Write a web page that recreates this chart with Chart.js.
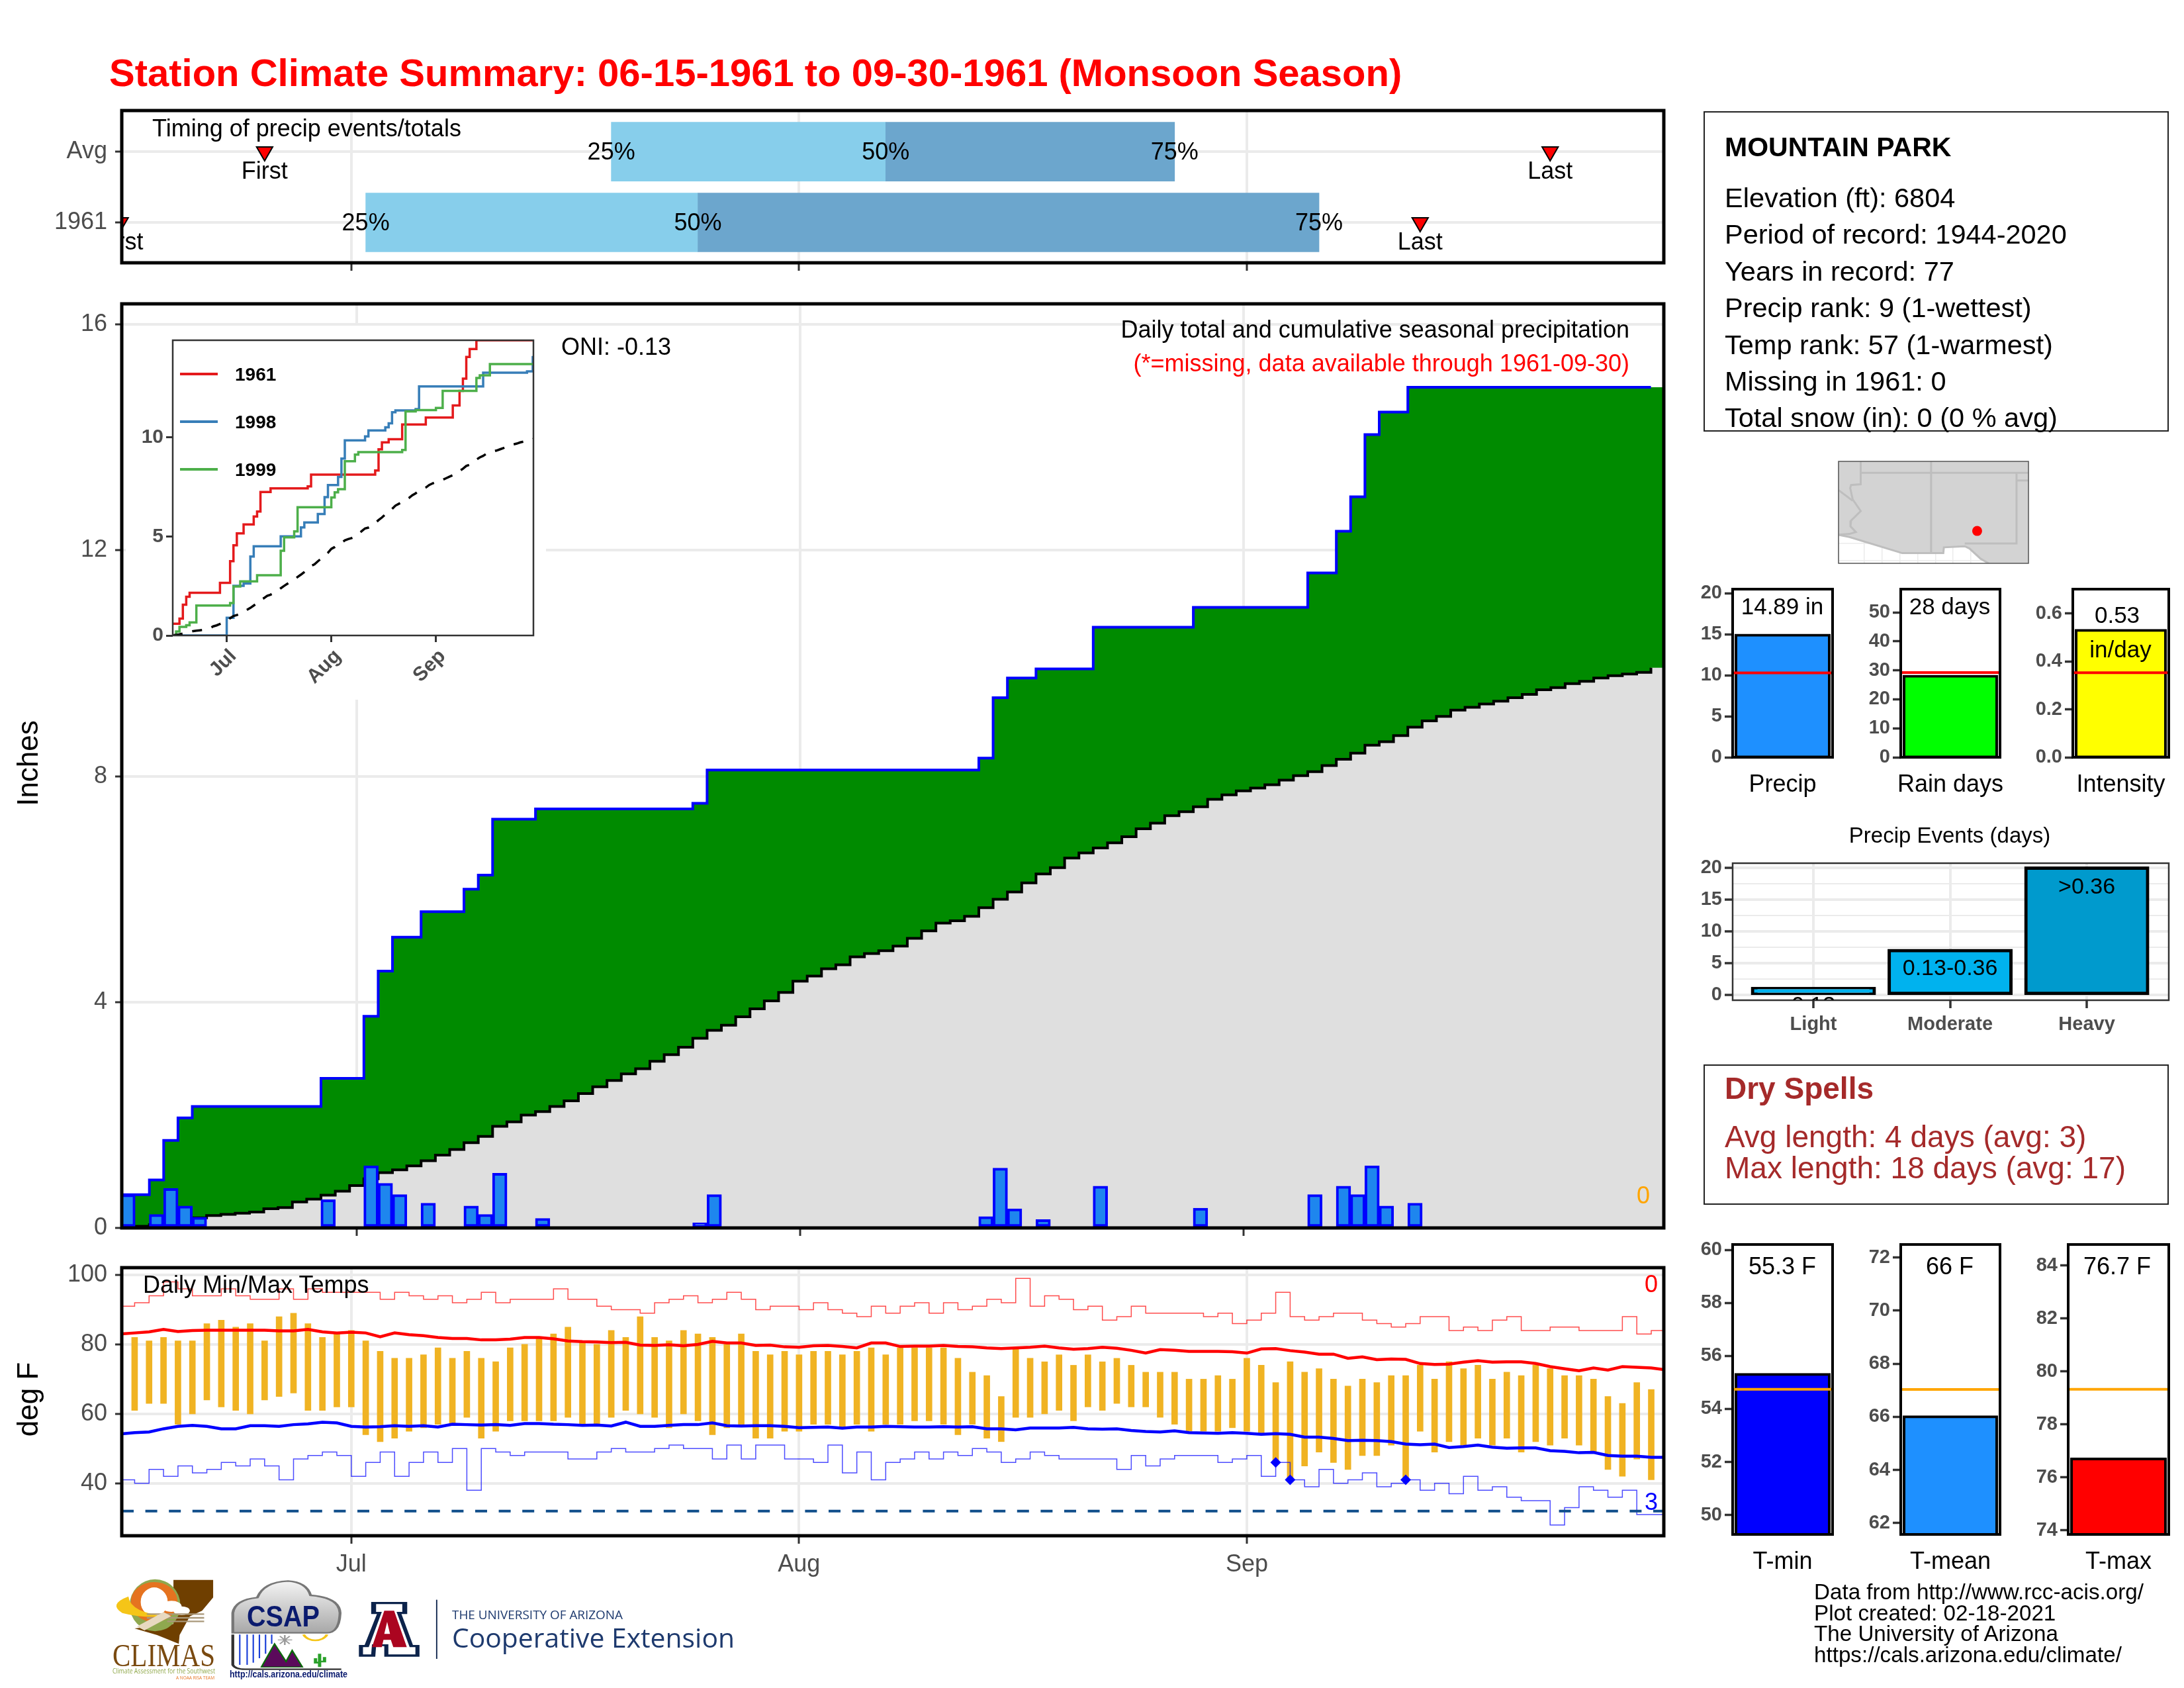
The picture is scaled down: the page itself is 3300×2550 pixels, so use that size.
<!DOCTYPE html>
<html>
<head>
<meta charset="utf-8">
<title>Station Climate Summary</title>
<script src="https://cdn.jsdelivr.net/npm/chart.js@4"></script>
<style>
  html,body{margin:0;background:#fff;width:3300px;height:2550px;overflow:hidden}
  body{position:relative;font-family:"Liberation Sans",Arial,sans-serif}
  canvas{position:absolute;display:block}
  .t{position:absolute;line-height:1;white-space:pre;z-index:5}
  .box{position:absolute;box-sizing:border-box;border:2.5px solid #222;background:#fff}
  #logos{position:absolute;left:0;top:0;z-index:4}
</style>
</head>
<body>
<svg id="logos" width="3300" height="2550" viewBox="0 0 3300 2550">
  <defs><linearGradient id="cl" x1="0" y1="0" x2="0" y2="1"><stop offset="0" stop-color="#f4f4f4"/><stop offset="1" stop-color="#a8a8a8"/></linearGradient></defs>
  <g transform="translate(160,2370) scale(0.6186,0.3333)">
    <path d="M165,50 L262,50 L262,130 L235,190 L205,215 L180,300 L178,340 L125,300 L70,270 L165,250 Z" fill="#6f3f00"/>
    <ellipse cx="120" cy="165" rx="62" ry="118" fill="#8fa84f"/>
    <ellipse cx="118" cy="150" rx="45" ry="78" fill="#fff" stroke="#e57320" stroke-width="24"/>
    <path d="M55,125 Q5,160 40,200 Q90,225 150,215 Q60,200 55,125 Z" fill="#f5c518"/>
    <circle cx="160" cy="170" r="25" fill="#fff"/><circle cx="185" cy="190" r="20" fill="#fff"/>
    <path d="M100,205 L240,205 M100,222 L240,222 M150,238 L240,238" stroke="#a9987a" stroke-width="7"/>
    <path d="M85,270 L150,205" stroke="#e8d9c0" stroke-width="26"/>
    <path d="M310,290 L310,200 Q315,140 370,130 Q385,60 445,55 Q490,60 500,120 Q570,130 572,200 Q570,290 540,290 Z" fill="url(#cl)" stroke="#777" stroke-width="7"/>
    <path d="M327,298V435 M345,298V435 M360,298V425 M375,298V405 M390,298V385 M405,298V340" stroke="#1a3fd8" stroke-width="3.5"/>
    <path d="M310,298 L310,435 Q315,455 340,455 L575,455" fill="none" stroke="#333" stroke-width="7"/>
    <path d="M380,445 L412,340 L440,420 L455,370 L480,445 Z" fill="#5b0a5b" stroke="#0a6a0a" stroke-width="4"/>
    <path d="M437,300V345 M420,322H455 M425,305L449,340 M449,305L425,340" stroke="#999" stroke-width="4"/>
    <path d="M483,298 A30,38 0 0 0 540,298" fill="none" stroke="#f5c518" stroke-width="7"/>
    <path d="M522,385V445 M512,405V425H522 M534,400V420H522" fill="none" stroke="#2aa02a" stroke-width="8"/>
    <path d="M648,150 L736,150 L736,205 L722,205 L750,345 L766,345 L766,398 L680,398 L680,350 L660,350 L658,398 L618,398 L618,345 L632,345 L662,205 L648,205 Z" fill="#0c234b"/>
    <path d="M660,160 L724,160 L724,195 L710,195 L742,355 L756,355 L756,388 L690,388 L690,342 L650,342 L648,388 L628,388 L628,355 L642,355 L674,195 L660,195 Z" fill="#fff"/>
    <path d="M680,190 L704,190 L735,355 L702,355 L696,322 L678,322 L674,355 L650,355 Z M687,240 L680,295 L694,295 Z" fill="#ab0520" fill-rule="evenodd"/>
    <path d="M808,140V408" stroke="#0c234b" stroke-width="3"/>
  </g>
  <text x="170" y="2517" font-family="Liberation Serif" font-size="48" fill="#7a4a10" textLength="155" lengthAdjust="spacingAndGlyphs">CLIMAS</text>
  <text x="170" y="2528" font-family="Open Sans" font-size="10.5" fill="#8fa84a" textLength="155" lengthAdjust="spacingAndGlyphs">Climate Assessment for the Southwest</text>
  <text x="266" y="2537" font-family="Open Sans" font-size="8" fill="#e57320" textLength="58" lengthAdjust="spacingAndGlyphs">A NOAA RISA TEAM</text>
  <text x="373" y="2457" font-family="Liberation Sans" font-weight="bold" font-size="44" fill="#0a1a6e" textLength="110" lengthAdjust="spacingAndGlyphs">CSAP</text>
  <text x="347" y="2534" font-family="Liberation Sans" font-weight="bold" font-size="14" fill="#0a1a6e" textLength="178" lengthAdjust="spacingAndGlyphs">http://cals.arizona.edu/climate</text>
  <text x="683" y="2446" font-family="Open Sans" font-size="19" fill="#1e3a6e" textLength="258" lengthAdjust="spacingAndGlyphs">THE UNIVERSITY OF ARIZONA</text>
  <text x="683" y="2489" font-family="Open Sans" font-size="40" fill="#1e3a6e" textLength="427" lengthAdjust="spacingAndGlyphs">Cooperative Extension</text>
</svg>
<script>
// data; day index 0 = Jun 15
const MONTH_DAYS = [16, 47, 78];
const MONTHS = ['Jul', 'Aug', 'Sep'];

// timing strip
const TIMING_ROWS = [2, 1];
const TIMING_NAMES = {1: '1961', 2: 'Avg'};
const firstEvent = [10, 0];
const lastEvent = [99, 90];
const q25 = [34, 17];
const q50 = [53, 40];
const q75 = [73, 83];

// daily precip, only wet days listed
const wetDays = [0,2,3,4,5,14,17,18,19,21,24,25,26,29,40,41,60,61,62,64,68,75,83,85,86,87,88,90];
const wetAmounts = [.59,.24,.70,.39,.19,.50,1.10,.79,.59,.44,.39,.24,.97,.17,.09,.59,.20,1.06,.34,.15,.74,.35,.59,.74,.59,1.10,.39,.44];
const cumLevels = [.59,.85,1.55,1.95,2.15,2.65,3.75,4.55,5.15,5.6,6.0,6.25,7.24,7.42,7.52,8.11,8.32,9.39,9.74,9.9,10.64,10.99,11.6,12.34,12.95,14.05,14.45,14.89];
const avgPrecip = [0.01,0.03,0.06,0.10,0.14,0.18,0.22,0.24,0.26,0.28,
  0.34,0.36,0.46,0.51,0.58,0.65,0.75,0.87,0.98,1.03,
  1.10,1.19,1.29,1.39,1.51,1.62,1.80,1.88,2.00,2.06,
  2.15,2.25,2.38,2.50,2.61,2.73,2.82,2.95,3.07,3.20,
  3.36,3.50,3.59,3.74,3.88,4.02,4.17,4.37,4.46,4.59,
  4.66,4.80,4.86,4.91,4.99,5.13,5.26,5.40,5.44,5.52,
  5.67,5.82,5.95,6.11,6.27,6.38,6.55,6.64,6.73,6.82,
  6.93,7.07,7.17,7.30,7.37,7.46,7.59,7.67,7.74,7.79,
  7.85,7.93,8.01,8.08,8.19,8.30,8.41,8.55,8.61,8.72,
  8.87,8.98,9.06,9.17,9.22,9.28,9.33,9.39,9.45,9.53,
  9.57,9.64,9.68,9.74,9.78,9.81,9.84,9.92];

// inset: wettest analog years
const days98 = [0,16,18,21,23,24,32,38,39,43,45,46,49,50,51,57,58,63,64,65,66,72,73,92,105,106.7];
const vals98 = [0,.89,2.5,2.62,3.98,4.5,5,5.45,5.7,6.13,6.98,7.59,8,8.92,9.84,10.04,10.34,10.5,10.7,11.26,11.35,11.42,12.56,13.25,13.32,14.1];
const days99 = [0,1,2,4,5,7,17,18,20,25,32,33,36,37,47,48,49,51,54,55,68,69,72,78,80,90,91,94,107];
const vals99 = [0,.2,.43,.52,.66,1.51,1.64,2.47,2.73,3.04,4.27,4.95,5.25,6.47,6.96,7.22,7.38,8.79,9.12,9.25,9.36,11.3,11.37,11.48,12.34,12.99,13.12,13.69,13.69];

// temps; tempHigh/tempLow start at day 1
const tempHigh = [82,81,82,81,81,86,87,85,86,
  81,88,89,86,82,83,84,81,78,76,
  76,77,79,76,78,76,75,79,80,82,
  83,85,81,80,84,82,88,82,81,84,
  83,82,80,83,78,77,78,77,78,78,
  77,78,79,77,79,79,79,79,76,72,
  71,65,79,76,75,77,74,77,75,76,
  74,72,72,72,70,70,71,70,76,74,
  69,75,72,73,70,68,70,69,71,71,
  74,70,75,73,74,70,72,71,74,73,
  71,71,70,65,63,69,67];
const tempLow = [61,63,63,57,60,64,62,61,60,
  64,65,66,61,61,62,62,54,52,53,
  55,56,57,57,59,53,55,58,58,58,
  58,59,57,57,59,61,60,59,56,60,
  58,54,56,57,53,53,55,55,57,57,
  56,57,55,57,57,58,58,57,54,57,
  53,52,59,59,60,61,58,62,61,63,
  62,62,59,57,55,55,55,56,55,54,
  46,41,45,49,46,44,48,48,51,41,
  55,49,52,51,53,51,53,49,52,51,
  53,51,49,44,42,47,41];
const recMax = [91,92,94,98,96,94,94,96,94,93,
  93,96,93,96,95,95,95,95,93,95,
  94,93,94,92,93,95,92,93,93,93,
  96,93,93,91,90,90,89,92,93,94,
  92,93,95,93,90,91,91,90,92,90,
  89,88,91,89,91,92,89,92,90,91,
  93,92,99,91,94,93,90,91,87,88,
  91,89,89,89,89,88,89,86,87,89,
  95,88,87,88,89,89,87,86,85,86,
  88,88,84,85,84,87,88,84,84,85,
  85,84,84,84,88,83,84,84];
const recMin = [41,40,44,42,45,43,44,46,45,47,
  45,41,47,48,49,48,42,46,49,42,
  46,49,46,50,38,50,49,48,49,49,
  49,47,47,49,50,49,49,50,51,50,
  50,47,51,47,51,51,47,47,46,51,
  43,49,41,46,47,49,47,49,48,50,
  49,46,47,49,48,47,47,47,47,44,
  48,45,47,48,48,48,46,47,48,42,
  46,41,39,44,40,41,43,39,40,41,
  38,40,37,42,38,39,36,35,35,28,
  33,39,38,36,38,31,31,31];
const avgMax = [83.0,83.3,83.6,84.3,83.7,84,84.1,84.1,84.1,84.1,
  84.1,83.9,83.9,84.3,83.6,83.3,83.5,83.3,82.2,83.3,
  82.8,82.5,82,81.7,81.7,81.3,81.3,81.5,82,82,
  81.6,81,80.8,80.7,80.5,80.6,79.8,79.7,79.9,79.6,
  80,80.9,80.4,80.4,79.7,79.8,79.3,79.2,79.6,79.7,
  79.4,79,80.4,80.4,79.4,79.5,79.5,79.7,79.4,79.3,
  79,78.8,79,79.2,79.5,79,78.6,78.8,79.2,78.9,
  78.3,77.5,78.5,78.3,78,78,78,77.9,77.5,78.7,
  78.8,78.2,77.8,77.2,77.2,76,76.4,75.6,75.8,75.7,
  74.5,74.2,74.3,74.9,75.3,74.9,75,75,74.5,73.6,
  73,72.4,73.2,72.6,73.6,73.4,73.2,72.7];
const avgMin = [54.2,54.6,54.8,55.7,56.4,56.7,56.4,55.7,55.7,56.6,
  56.6,56.4,56.9,57.1,57.6,57.4,56.4,56.2,56.3,56.6,
  56.4,56.6,56.2,57,56.9,56.8,56.9,56.7,57.2,57.2,
  57,56.9,56.7,56.8,56.5,57.6,56.4,56.4,56.7,56.9,
  56.9,57.4,56.6,56.5,56.6,56.6,56.4,56,56.1,56.2,
  55.9,56.2,56.2,56.4,56.3,56.2,56.2,56.3,56.2,56.3,
  55.7,55.7,55.4,55.9,55.9,55.9,56.1,55.7,55.6,55.7,
  55.2,54.9,54.8,55.1,54.6,54.5,54.4,54.6,54.4,54.1,
  54.3,54.1,53.3,53.3,52.9,52.3,52.4,52.3,52,51.3,
  51.1,51.3,50.3,50.6,51,50.4,50.1,50.2,50.2,49.4,
  49.2,48.8,48.9,48,47.8,47.8,47.5,47.5];
const recordDays = [80, 81, 89];
const recordLows = [46, 41, 41];
const FREEZE = 32;

// side bars
const eventNames = ['Light', 'Moderate', 'Heavy'];
const eventDays = [1, 7, 20];

// map, lon/lat
const landLon = [-115.56,-102.2,-102.2,-105,-105.56,-106.35,-106.68,-108.15,-108.19,-111.08,-114.79,-115.56];
const landLat = [37.81,37.81,30.6,30.6,30.92,31.65,31.81,31.73,31.32,31.32,32.46,32.62];
const borderLines = [
  [[-109.05,37.81],[-109.05,31.32]],
  [[-114,37],[-102.2,37]],
  [[-114,37.81],[-114,36.19],[-114.68,36.14],[-114.74,35.92],[-114.56,35.11],[-114,34.3],[-114.68,33.62],[-114.72,33.22],[-114.34,32.81],[-114.79,32.68],[-115.56,32.62]],
  [[-115.56,35.78],[-114.57,35.03]],
  [[-103.04,37],[-103.04,32],[-106.68,32]],
  [[-103.04,36.46],[-102.2,36.46]]
];
const stationLon = [-105.81];
const stationLat = [32.89];

const GRID = '#EBEBEB', TICK = '#333', TXT = '#4D4D4D', FONT = 'Liberation Sans';

function label(s, x, y, o = {}) {
  const d = document.createElement('div');
  d.className = 't';
  d.textContent = s;
  const ax = o.align === 'center' ? '-50%' : o.align === 'right' ? '-100%' : '0';
  d.style.cssText = `left:${x}px;top:${y}px;font-size:${o.size || 36}px;color:${o.color || '#000'};font-weight:${o.bold ? 'bold' : 'normal'};transform:translate(${ax},-50%)${o.rot ? ' rotate(' + o.rot + 'deg)' : ''}`;
  document.body.appendChild(d);
}

function panelBorder(width, color) {
  return { id: 'panelBorder', afterDatasetsDraw(chart) {
    const a = chart.chartArea, c = chart.ctx;
    c.save(); c.lineWidth = width; c.strokeStyle = color;
    c.strokeRect(a.left, a.top, a.right - a.left, a.bottom - a.top);
    c.restore();
  }};
}

// text tied to data values, clipped to the panel like the original
function notes(items) {
  return { id: 'notes', afterDatasetsDraw(chart) {
    const a = chart.chartArea, c = chart.ctx;
    c.save(); c.beginPath(); c.rect(a.left, a.top, a.right - a.left, a.bottom - a.top); c.clip();
    c.textAlign = 'center'; c.textBaseline = 'middle'; c.fillStyle = '#000';
    items.forEach(n => {
      c.font = `${n.size || 36}px "${FONT}"`;
      c.fillText(n.text, chart.scales.x.getPixelForValue(n.x), chart.scales.y.getPixelForValue(n.y) + (n.dy || 0));
    });
    c.restore();
  }};
}

function mkChart(area, m, cfg) {
  const c = document.createElement('canvas');
  c.width = area.r - area.l + m.l + m.r;
  c.height = area.b - area.t + m.t + m.b;
  c.style.left = (area.l - m.l) + 'px';
  c.style.top = (area.t - m.t) + 'px';
  if (m.bg) c.style.background = m.bg;
  if (m.z) c.style.zIndex = m.z;
  document.body.appendChild(c);
  const o = cfg.options;
  o.responsive = false; o.animation = false; o.devicePixelRatio = 1;
  o.layout = { autoPadding: false, padding: { left: 0, top: m.t, right: m.r, bottom: 0 } };
  // bar datasets would otherwise pull in offset:true from their defaults
  ['x', 'y'].forEach(k => {
    o.scales[k].offset = false;
    o.scales[k].grid = Object.assign({ offset: false }, o.scales[k].grid);
  });
  o.scales.x.afterFit = s => { s.height = m.b; };
  o.scales.y.afterFit = s => { s.width = m.l; };
  o.plugins = { legend: { display: false }, tooltip: { enabled: false } };
  return new Chart(c, cfg);
}

function fixedTicks(vals) { return s => { s.ticks = vals.map(v => ({ value: v })); }; }

function monthAxis(min, max, showLabels) {
  return {
    type: 'linear', min, max,
    afterBuildTicks: fixedTicks(MONTH_DAYS),
    grid: { color: GRID, lineWidth: 4, tickColor: TICK, tickWidth: 3, tickLength: 12 },
    border: { display: false },
    ticks: { autoSkip: false, maxRotation: 0, padding: 10, color: TXT, font: { family: FONT, size: 36 },
      callback: v => showLabels ? MONTHS[MONTH_DAYS.indexOf(v)] : '' }
  };
}

function valueAxis(min, max, vals, names) {
  return {
    type: 'linear', min, max,
    afterBuildTicks: fixedTicks(vals),
    grid: { color: GRID, lineWidth: 4, tickColor: TICK, tickWidth: 3, tickLength: 10 },
    border: { display: false },
    ticks: { autoSkip: false, padding: 12, color: TXT, font: { family: FONT, size: 36 },
      callback: v => names ? names[v] : String(v) }
  };
}

const pairs = (xs, ys) => xs.map((x, i) => ({ x, y: ys[i] }));
const byDay = (ys, shift = 0) => ys.map((y, i) => ({ x: i + shift, y }));

/* ---------- timing strip ---------- */
mkChart({ l: 184, t: 167, r: 2514, b: 397 }, { l: 120, r: 10, t: 40, b: 45 }, {
  type: 'scatter',
  data: { datasets: [
    { type: 'bar', indexAxis: 'y', grouped: false, order: 5, barThickness: 89, backgroundColor: '#87CEEB',
      data: TIMING_ROWS.map((r, i) => ({ y: r, x: [q25[i], q50[i]] })) },
    { type: 'bar', indexAxis: 'y', grouped: false, order: 4, barThickness: 89, backgroundColor: '#6CA6CD',
      data: TIMING_ROWS.map((r, i) => ({ y: r, x: [q50[i], q75[i]] })) },
    { data: pairs(firstEvent, TIMING_ROWS).concat(pairs(lastEvent, TIMING_ROWS)), order: 1,
      pointStyle: 'triangle', rotation: 180, radius: 14, backgroundColor: '#f00', borderColor: '#000', borderWidth: 2 }
  ]},
  options: { scales: { x: monthAxis(.11, 106.87, false), y: valueAxis(.43, 2.58, TIMING_ROWS, TIMING_NAMES) } },
  plugins: [panelBorder(5, '#000'), notes(TIMING_ROWS.flatMap((r, i) => [
    { x: q25[i], y: r, dy: 2, text: '25%' }, { x: q50[i], y: r, dy: 2, text: '50%' }, { x: q75[i], y: r, dy: 2, text: '75%' },
    { x: firstEvent[i], y: r, dy: 31, text: 'First' }, { x: lastEvent[i], y: r, dy: 31, text: 'Last' }
  ]))]
});

/* ---------- cumulative precip ---------- */
const cumSteps = pairs(wetDays.map(d => d - .5), cumLevels);
const lastCum = cumLevels[cumLevels.length - 1];
const avgSteps = byDay(avgPrecip, -.5);
mkChart({ l: 184, t: 459, r: 2514, b: 1855 }, { l: 120, r: 10, t: 40, b: 45 }, {
  type: 'line',
  data: { datasets: [
    { data: avgSteps.concat({ x: 107.5, y: avgPrecip[107] }), stepped: 'before', order: 9, pointRadius: 0, borderWidth: 0,
      fill: 'origin', backgroundColor: '#DFDFDF' },
    { data: cumSteps.concat({ x: 107.5, y: lastCum }), stepped: 'before', order: 8, pointRadius: 0, borderWidth: 0,
      fill: 0, backgroundColor: '#008B00' },
    { data: avgSteps, stepped: 'before', order: 3, pointRadius: 0, borderWidth: 4, borderColor: '#000', fill: false },
    { type: 'bar', data: pairs(wetDays, wetAmounts), order: 2, barThickness: 22, borderWidth: 4, borderSkipped: false,
      borderColor: '#00f', backgroundColor: '#1E86EE' },
    { data: cumSteps.concat({ x: 106.5, y: lastCum }), stepped: 'before', order: 1, pointRadius: 0, borderWidth: 4, borderColor: '#00f', fill: false }
  ]},
  options: { scales: { x: monthAxis(-.43, 107.4, false), y: valueAxis(0, 16.366, [0, 4, 8, 12, 16]) } },
  plugins: [panelBorder(5, '#000')]
});

/* ---------- inset ---------- */
mkChart({ l: 261, t: 512, r: 806, b: 960 }, { l: 71, r: 19, t: 20, b: 97, bg: '#fff', z: 2 }, {
  type: 'line',
  data: { datasets: [
    { data: pairs(wetDays, cumLevels).concat({ x: 107, y: lastCum }), stepped: 'before', order: 4, pointRadius: 0, borderWidth: 3.5, borderColor: '#E41A1C' },
    { data: pairs(days98, vals98), stepped: 'before', order: 3, pointRadius: 0, borderWidth: 3.5, borderColor: '#377EB8' },
    { data: pairs(days99, vals99), stepped: 'before', order: 2, pointRadius: 0, borderWidth: 3.5, borderColor: '#4DAF4A' },
    { data: byDay(avgPrecip), order: 1, pointRadius: 0, borderWidth: 3.5, borderColor: '#000', borderDash: [15, 15] }
  ]},
  options: { scales: {
    x: { type: 'linear', min: 0, max: 106.9, afterBuildTicks: fixedTicks(MONTH_DAYS), border: { display: false },
      grid: { drawOnChartArea: false, tickColor: TICK, tickWidth: 3, tickLength: 10 },
      ticks: { autoSkip: false, minRotation: 45, maxRotation: 45, padding: 4, labelOffset: 10, color: TXT, font: { family: FONT, size: 30, weight: 'bold' },
        callback: v => MONTHS[MONTH_DAYS.indexOf(v)] } },
    y: { type: 'linear', min: 0, max: 14.89, afterBuildTicks: fixedTicks([0, 5, 10]), border: { display: false },
      grid: { drawOnChartArea: false, tickColor: TICK, tickWidth: 3, tickLength: 10 },
      ticks: { autoSkip: false, padding: 4, color: TXT, font: { family: FONT, size: 30, weight: 'bold' }, callback: v => String(v) } }
  } },
  plugins: [panelBorder(2.5, '#333')]
});

/* ---------- daily temps ---------- */
mkChart({ l: 184, t: 1915, r: 2514, b: 2320 }, { l: 120, r: 10, t: 40, b: 80 }, {
  type: 'line',
  data: { datasets: [
    { type: 'bar', order: 7, barThickness: 9, backgroundColor: '#F0B323', data: tempHigh.map((h, i) => ({ x: i + 1, y: [tempLow[i], h] })) },
    { data: byDay(recMax), stepped: 'before', order: 6, pointRadius: 0, borderWidth: 1.5, borderColor: 'rgba(255,0,0,.7)' },
    { data: byDay(recMin), stepped: 'before', order: 5, pointRadius: 0, borderWidth: 1.5, borderColor: 'rgba(0,0,255,.7)' },
    { data: [{ x: .11, y: FREEZE }, { x: 106.87, y: FREEZE }], order: 4, pointRadius: 0, borderWidth: 4, borderColor: '#104E8B', borderDash: [18, 17.6] },
    { data: byDay(avgMax), order: 3, pointRadius: 0, borderWidth: 4.5, borderColor: '#f00' },
    { data: byDay(avgMin), order: 2, pointRadius: 0, borderWidth: 4.5, borderColor: '#00f' },
    { data: pairs(recordDays, recordLows), order: 1, showLine: false, pointStyle: 'rectRot', radius: 8, backgroundColor: '#00f', borderWidth: 0 }
  ]},
  options: { scales: { x: monthAxis(.11, 106.87, true), y: valueAxis(24.9, 102.1, [40, 60, 80, 100]) } },
  plugins: [panelBorder(5, '#000')]
});

/* ---------- side stat bars ---------- */
const BOLD_TICK = { family: FONT, size: 29, weight: 'bold' };
function statBar(area, name, value, ref, fill, refColor, min, max, vals, decimals) {
  const w = area.r - area.l;
  return mkChart(area, { l: 90, r: 80, t: 30, b: 80 }, {
    type: 'line',
    data: { datasets: [
      { data: [{ x: 0, y: ref }, { x: 1, y: ref }], order: 1, pointRadius: 0, borderWidth: 4, borderColor: refColor },
      { type: 'bar', data: [{ x: .5, y: value }], order: 2, barThickness: w - 10, borderWidth: 4, inflateAmount: 2, borderSkipped: false, borderColor: '#000', backgroundColor: fill }
    ]},
    options: { scales: {
      x: { type: 'linear', min: 0, max: 1, afterBuildTicks: fixedTicks([.5]), border: { display: false },
        grid: { display: false },
        ticks: { autoSkip: false, maxRotation: 0, padding: 12, color: '#000', font: { family: FONT, size: 36 }, callback: () => name } },
      y: { type: 'linear', min, max, afterBuildTicks: fixedTicks(vals), border: { display: false },
        grid: { drawOnChartArea: false, tickColor: TICK, tickWidth: 3.5, tickLength: 12 },
        ticks: { autoSkip: false, padding: 4, color: TXT, font: BOLD_TICK, callback: v => decimals ? v.toFixed(decimals) : String(v) } }
    } },
    plugins: [panelBorder(4, '#000')]
  });
}
statBar({ l: 2618, t: 890, r: 2769, b: 1144 }, 'Precip', 14.89, 10.3, '#1E90FF', '#f00', 0, 20.5, [0, 5, 10, 15, 20]);
statBar({ l: 2872, t: 890, r: 3022, b: 1144 }, 'Rain days', 28, 29.2, '#00FF00', '#f00', 0, 58, [0, 10, 20, 30, 40, 50]);
statBar({ l: 3132, t: 890, r: 3277, b: 1144 }, 'Intensity', .53, .353, '#FFFF00', '#f00', 0, .702, [0, .2, .4, .6], 1);
statBar({ l: 2618, t: 1880, r: 2769, b: 2318 }, 'T-min', 55.3, 54.74, '#0000FF', '#FFA500', 49.27, 60.2, [50, 52, 54, 56, 58, 60]);
statBar({ l: 2872, t: 1880, r: 3022, b: 2318 }, 'T-mean', 66, 67.03, '#1E90FF', '#FFA500', 61.57, 72.49, [62, 64, 66, 68, 70, 72]);
statBar({ l: 3125, t: 1880, r: 3277, b: 2318 }, 'T-max', 76.7, 79.33, '#FF0000', '#FFA500', 73.85, 84.8, [74, 76, 78, 80, 82, 84]);

/* ---------- precip events ---------- */
mkChart({ l: 2618, t: 1304, r: 3277, b: 1511 }, { l: 90, r: 10, t: 30, b: 60 }, {
  type: 'bar',
  data: { datasets: [{ data: eventDays.map((d, i) => ({ x: i + 1, y: d })), barThickness: 184, borderWidth: 5, inflateAmount: 2.5, borderSkipped: false,
    borderColor: '#000', backgroundColor: ['#00B2EE', '#00B2EE', '#009ACD'] }] },
  options: { scales: {
    x: { type: 'linear', min: .409, max: 3.6, afterBuildTicks: fixedTicks([1, 2, 3]), border: { display: false },
      grid: { color: GRID, lineWidth: 4, tickColor: TICK, tickWidth: 3.5, tickLength: 12 },
      ticks: { autoSkip: false, maxRotation: 0, padding: 8, color: TXT, font: BOLD_TICK, callback: v => eventNames[v - 1] } },
    y: { type: 'linear', min: -.85, max: 20.78, afterBuildTicks: fixedTicks([0, 2.5, 5, 7.5, 10, 12.5, 15, 17.5, 20]), border: { display: false },
      grid: { color: GRID, lineWidth: c => c.tick.value % 5 === 0 ? 4 : 2, tickColor: c => c.tick.value % 5 === 0 ? TICK : 'transparent', tickWidth: 3.5, tickLength: 12 },
      ticks: { autoSkip: false, padding: 4, color: TXT, font: BOLD_TICK, callback: v => v % 5 === 0 ? String(v) : '' } }
  } },
  plugins: [panelBorder(2.5, '#333'), notes([
    { x: 1, y: -1.7, text: '0.13', size: 34 }, { x: 2, y: 4.14, text: '0.13-0.36', size: 34 }, { x: 3, y: 17, text: '>0.36', size: 34 }
  ])]
});

/* ---------- locator map ---------- */
mkChart({ l: 2778, t: 697, r: 3065, b: 851 }, { l: 8, r: 8, t: 8, b: 8 }, {
  type: 'scatter',
  data: { datasets: [
    { data: pairs(landLon, landLat), order: 9, showLine: true, pointRadius: 0, borderWidth: 0, fill: 'shape', backgroundColor: '#D3D3D3' },
    ...borderLines.map(l => ({ data: l.map(p => ({ x: p[0], y: p[1] })), order: 5, showLine: true, pointRadius: 0, borderWidth: 3, borderColor: '#BEBEBE' })),
    { data: pairs(landLon, landLat), order: 4, showLine: true, pointRadius: 0, borderWidth: 3, borderColor: '#BEBEBE', segment: { borderColor: c => c.p0DataIndex < 3 ? 'transparent' : undefined } },
    { data: pairs(stationLon, stationLat), order: 1, radius: 7.5, backgroundColor: '#f00', borderWidth: 0 }
  ]},
  options: { scales: {
    x: { type: 'linear', min: -115.56, max: -102.2, border: { display: false }, grid: { color: GRID, lineWidth: 1.5, drawTicks: false }, ticks: { stepSize: 1.25, display: false } },
    y: { type: 'linear', min: 30.6, max: 37.81, afterBuildTicks: fixedTicks([30.8, 32]), border: { display: false }, grid: { color: GRID, lineWidth: 1.5, drawTicks: false }, ticks: { display: false } }
  } },
  plugins: [panelBorder(1.5, '#555')]
});

/* ---------- text ---------- */
label('Station Climate Summary: 06-15-1961 to 09-30-1961 (Monsoon Season)', 165, 110, { size: 58, color: '#f00', bold: true });
label('Timing of precip events/totals', 230, 194);
label('Inches', 42, 1153, { size: 44, align: 'center', rot: -90 });
label('deg F', 42, 2114, { size: 44, align: 'center', rot: -90 });
label('ONI: -0.13', 848, 524);
label('Daily total and cumulative seasonal precipitation', 2462, 498, { align: 'right' });
label('(*=missing, data available through 1961-09-30)', 2462, 549, { align: 'right', color: '#f00' });
label('0', 2473, 1806, { color: '#FFA500' });
label('Daily Min/Max Temps', 216, 1941);
label('0', 2485, 1940, { color: '#f00' });
label('3', 2485, 2269, { color: '#00f' });

[[565, '#E41A1C', '1961'], [637, '#377EB8', '1998'], [709, '#4DAF4A', '1999']].forEach(([y, col, yr]) => {
  const d = document.createElement('div');
  d.style.cssText = `position:absolute;left:272px;top:${y - 2}px;width:57px;height:4px;background:${col};z-index:5`;
  document.body.appendChild(d);
  label(yr, 355, y + 1, { size: 28, bold: true });
});

// station box
const info = document.createElement('div');
info.className = 'box';
info.style.cssText = 'left:2574px;top:168px;width:703px;height:484px';
document.body.appendChild(info);
label('MOUNTAIN PARK', 2606, 222, { size: 41, bold: true });
['Elevation (ft): 6804', 'Period of record: 1944-2020', 'Years in record: 77', 'Precip rank: 9 (1-wettest)',
 'Temp rank: 57 (1-warmest)', 'Missing in 1961: 0', 'Total snow (in): 0 (0 % avg)'].forEach((s, i) => label(s, 2606, 299 + i * 55.4, { size: 41.5 }));

// dry spell box
const dry = document.createElement('div');
dry.className = 'box';
dry.style.cssText = 'left:2574px;top:1608px;width:703px;height:212px';
document.body.appendChild(dry);
label('Dry Spells', 2606, 1644, { size: 46, bold: true, color: '#A52A2A' });
label('Avg length: 4 days (avg: 3)', 2606, 1717, { size: 46, color: '#A52A2A' });
label('Max length: 18 days (avg: 17)', 2606, 1764, { size: 46, color: '#A52A2A' });

label('14.89 in', 2693, 915, { size: 35, align: 'center' });
label('28 days', 2946, 915, { size: 35, align: 'center' });
label('0.53', 3199, 928, { size: 35, align: 'center' });
label('in/day', 3204, 980, { size: 35, align: 'center' });
label('55.3 F', 2693, 1913, { size: 36, align: 'center' });
label('66 F', 2946, 1913, { size: 36, align: 'center' });
label('76.7 F', 3199, 1913, { size: 36, align: 'center' });
label('Precip Events (days)', 2946, 1261, { size: 33, align: 'center' });

['Data from http://www.rcc-acis.org/', 'Plot created: 02-18-2021', 'The University of Arizona', 'https://cals.arizona.edu/climate/']
  .forEach((s, i) => label(s, 2741, 2405 + i * 31.7, { size: 33.2 }));
</script>
</body>
</html>
